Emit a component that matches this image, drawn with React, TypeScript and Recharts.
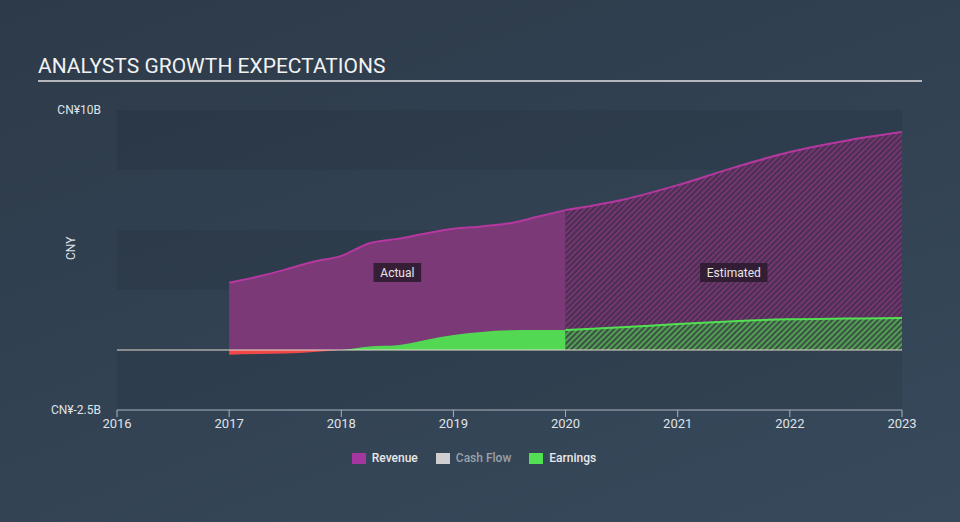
import React from "react";
import {
  AreaChart,
  Area,
  XAxis,
  YAxis,
  ReferenceArea,
  ReferenceLine,
} from "recharts";

const actualYears = [2017.0, 2017.25, 2017.5, 2017.75, 2018.0, 2018.25, 2018.5, 2018.75, 2019.0, 2019.25, 2019.5, 2019.75, 2020.0];
const revenueActual = [2.8, 3.05, 3.35, 3.68, 3.92, 4.45, 4.63, 4.85, 5.05, 5.15, 5.28, 5.55, 5.83];
const earningsActual = [-0.2, -0.17, -0.15, -0.08, 0.0, 0.15, 0.2, 0.42, 0.62, 0.75, 0.82, 0.83, 0.83];

const estimateYears = [2020.0, 2020.5, 2021.0, 2021.5, 2022.0, 2022.5, 2023.0];
const revenueEstimate = [5.83, 6.25, 6.87, 7.6, 8.25, 8.72, 9.08];
const earningsEstimate = [0.83, 0.95, 1.08, 1.2, 1.28, 1.31, 1.33];

const xTicks = [2016, 2017, 2018, 2019, 2020, 2021, 2022, 2023];
const yTicks = [-2.5, 10];
const yLabels: Record<string, string> = { "-2.5": "CN¥-2.5B", "10": "CN¥10B" };

const legendItems = [
  { name: "Revenue", color: "#a3379f", text: "#e8e8e8" },
  { name: "Cash Flow", color: "#cfcfcf", text: "#9aa1a9" },
  { name: "Earnings", color: "#52e052", text: "#e8e8e8" },
];

// merge the two periods into one table for the chart
const rows: any[] = [];
actualYears.forEach((yr, i) => {
  rows.push({ year: yr, revA: revenueActual[i], earnA: earningsActual[i] });
});
estimateYears.forEach((yr, i) => {
  const found = rows.find((r) => r.year === yr);
  if (found) {
    found.revE = revenueEstimate[i];
    found.earnE = earningsEstimate[i];
  } else {
    rows.push({ year: yr, revE: revenueEstimate[i], earnE: earningsEstimate[i] });
  }
});

const earnMax = Math.max(...earningsActual, 0);
const earnMin = Math.min(...earningsActual, 0);
const zeroOffset = earnMax / (earnMax - earnMin);

const font = "Roboto, 'Noto Sans', sans-serif";

const PeriodLabel = (text: string) => (props: any) => {
  const { viewBox } = props;
  const cx = viewBox.x + viewBox.width / 2;
  const cy = viewBox.y + viewBox.height / 2;
  const w = text.length * 6.6 + 8;
  return (
    <g>
      <rect x={cx - w / 2} y={cy - 9} width={w} height={19} fill="#2a1a2c" fillOpacity={0.85} />
      <text x={cx} y={cy + 4.5} textAnchor="middle" fill="#e6e6e6" fontSize={12} fontFamily={font}>
        {text}
      </text>
    </g>
  );
};

const YTick = (props: any) => {
  const { x, y, payload } = props;
  return (
    <text x={x - 8} y={y + 4} textAnchor="end" fill="#dfe3e8" fontSize={12} fontFamily={font}>
      {yLabels[String(payload.value)]}
    </text>
  );
};

export default function App() {
  return (
    <div
      style={{
        position: "absolute",
        left: 0,
        top: 0,
        width: 960,
        height: 522,
        background: "linear-gradient(160deg, #2d3a49 0%, #324253 50%, #37495b 100%)",
        fontFamily: font,
      }}
    >
      <div
        style={{
          position: "absolute",
          left: 38,
          top: 54,
          fontSize: 21,
          color: "#f2f2f2",
        }}
      >
        ANALYSTS GROWTH EXPECTATIONS
      </div>
      <div style={{ position: "absolute", left: 38, top: 80, width: 884, height: 2, background: "#b4b8bd" }} />

      <div style={{ position: "absolute", left: 0, top: 0 }}>
        <AreaChart
          width={960}
          height={522}
          data={rows}
          margin={{ top: 110, right: 58, bottom: 82, left: 17 }}
        >
          <defs>
            <linearGradient id="earnSplit" x1="0" y1="0" x2="0" y2="1">
              <stop offset={0} stopColor="#52d852" />
              <stop offset={zeroOffset} stopColor="#52d852" />
              <stop offset={zeroOffset} stopColor="#f04848" />
              <stop offset={1} stopColor="#f04848" />
            </linearGradient>
            <pattern id="revHatch" width="4" height="4" patternUnits="userSpaceOnUse" patternTransform="rotate(45)">
              <rect width="4" height="4" fill="#4a2f50" />
              <line x1="1" y1="0" x2="1" y2="4" stroke="#7f387c" strokeWidth="1.6" />
            </pattern>
            <pattern id="earnHatch" width="4" height="4" patternUnits="userSpaceOnUse" patternTransform="rotate(45)">
              <rect width="4" height="4" fill="#3d5146" />
              <line x1="1" y1="0" x2="1" y2="4" stroke="#58bb56" strokeWidth="1.5" />
            </pattern>
          </defs>

          <ReferenceArea y1={7.5} y2={10} fill="#000" fillOpacity={0.07} stroke="none" />
          <ReferenceArea y1={2.5} y2={5} fill="#000" fillOpacity={0.07} stroke="none" />
          <ReferenceArea y1={-2.5} y2={0} fill="#000" fillOpacity={0.07} stroke="none" />

          <XAxis
            dataKey="year"
            type="number"
            domain={[2016, 2023]}
            ticks={xTicks}
            allowDecimals={false}
            stroke="#a9b3be"
            tick={{ fill: "#dfe3e8", fontSize: 13, fontFamily: font }}
            tickLine={{ stroke: "#a9b3be" }}
            tickSize={7}
            tickMargin={2}
          />
          <YAxis
            type="number"
            domain={[-2.5, 10]}
            ticks={yTicks}
            width={100}
            axisLine={false}
            tickLine={false}
            tick={<YTick />}
            label={{
              value: "CNY",
              angle: -90,
              position: "insideLeft",
              offset: 54,
              fill: "#dfe3e8",
              fontSize: 12,
              fontFamily: font,
            }}
          />

          <Area
            type="monotone"
            dataKey="revA"
            baseValue={0}
            stroke="#b5389f"
            strokeWidth={2}
            fill="#7b3977"
            fillOpacity={1}
            isAnimationActive={false}
            dot={false}
            activeDot={false}
          />
          <Area
            type="monotone"
            dataKey="revE"
            baseValue={0}
            stroke="#b5389f"
            strokeWidth={2}
            fill="url(#revHatch)"
            fillOpacity={1}
            isAnimationActive={false}
            dot={false}
            activeDot={false}
          />
          <Area
            type="monotone"
            dataKey="earnA"
            baseValue={0}
            stroke="none"
            fill="url(#earnSplit)"
            fillOpacity={1}
            isAnimationActive={false}
            dot={false}
            activeDot={false}
          />
          <Area
            type="monotone"
            dataKey="earnE"
            baseValue={0}
            stroke="#52e052"
            strokeWidth={2}
            fill="url(#earnHatch)"
            fillOpacity={1}
            isAnimationActive={false}
            dot={false}
            activeDot={false}
          />

          <ReferenceLine y={0} stroke="#e4dccb" strokeWidth={1.2} />

          <ReferenceArea x1={2017} x2={2020} y1={0} y2={6.5} fill="none" stroke="none" label={PeriodLabel("Actual")} />
          <ReferenceArea x1={2020} x2={2023} y1={0} y2={6.5} fill="none" stroke="none" label={PeriodLabel("Estimated")} />
        </AreaChart>
      </div>

      <div
        style={{
          position: "absolute",
          left: 0,
          top: 451,
          width: 948,
          display: "flex",
          justifyContent: "center",
          fontSize: 12,
          fontWeight: 500,
        }}
      >
        {legendItems.map((it) => (
          <div key={it.name} style={{ display: "flex", alignItems: "center", margin: "0 9px" }}>
            <span style={{ display: "inline-block", width: 14, height: 11, background: it.color, marginRight: 6 }} />
            <span style={{ color: it.text }}>{it.name}</span>
          </div>
        ))}
      </div>
    </div>
  );
}
